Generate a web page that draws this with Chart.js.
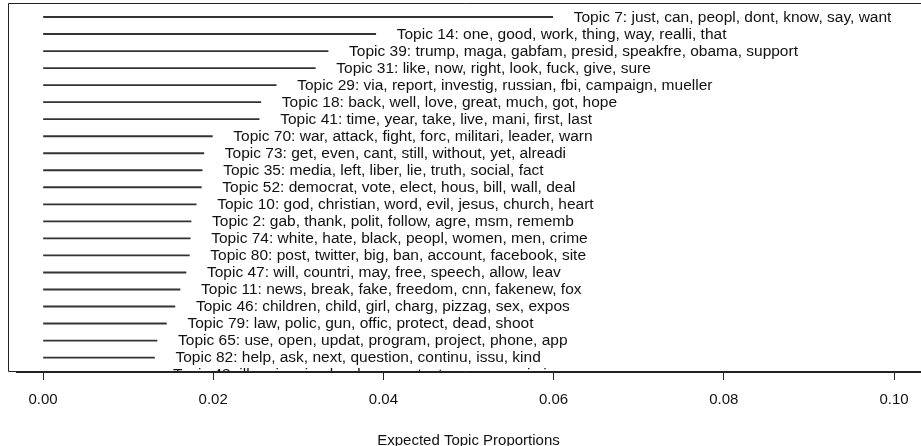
<!DOCTYPE html>
<html>
<head>
<meta charset="utf-8">
<script src="https://cdn.jsdelivr.net/npm/chart.js@4/dist/chart.umd.min.js"></script>
<style>
  html, body { margin: 0; padding: 0; background: #fff; }
  #wrap { width: 921px; height: 446px; }
</style>
</head>
<body>
<div id="wrap"><canvas id="c" width="921" height="446"></canvas></div>
<script>
// ---- data ----
const topicIds = [7, 14, 39, 31, 29, 18, 41, 70, 73, 35, 52, 10, 2, 74, 80, 47, 11, 46, 79, 65, 82, 48];
const topicWords = [
  "just, can, peopl, dont, know, say, want",
  "one, good, work, thing, way, realli, that",
  "trump, maga, gabfam, presid, speakfre, obama, support",
  "like, now, right, look, fuck, give, sure",
  "via, report, investig, russian, fbi, campaign, mueller",
  "back, well, love, great, much, got, hope",
  "time, year, take, live, mani, first, last",
  "war, attack, fight, forc, militari, leader, warn",
  "get, even, cant, still, without, yet, alreadi",
  "media, left, liber, lie, truth, social, fact",
  "democrat, vote, elect, hous, bill, wall, deal",
  "god, christian, word, evil, jesus, church, heart",
  "gab, thank, polit, follow, agre, msm, rememb",
  "white, hate, black, peopl, women, men, crime",
  "post, twitter, big, ban, account, facebook, site",
  "will, countri, may, free, speech, allow, leav",
  "news, break, fake, freedom, cnn, fakenew, fox",
  "children, child, girl, charg, pizzag, sex, expos",
  "law, polic, gun, offic, protect, dead, shoot",
  "use, open, updat, program, project, phone, app",
  "help, ask, next, question, continu, issu, kind",
  "illeg, immigr, border, arrest, stop, secur, crimin"
];
const proportions = [0.0599, 0.0391, 0.0335, 0.0320, 0.0274, 0.0256, 0.0254, 0.0199, 0.0189, 0.0187,
                     0.0186, 0.0180, 0.0174, 0.0173, 0.0172, 0.0168, 0.0161, 0.0155, 0.0145, 0.0134,
                     0.0131, 0.0128];
const xTickValues = [0.00, 0.02, 0.04, 0.06, 0.08, 0.10];
const xTitle = "Expected Topic Proportions";

const labels = topicIds.map((id, i) => "Topic " + id + ": " + topicWords[i]);
const FONT = "'Liberation Sans', Arial, Helvetica, sans-serif";

// frame (R style box: top, left, bottom; right side off-canvas)
const boxPlugin = {
  id: 'boxPlugin',
  afterDraw(chart) {
    const ctx = chart.ctx, a = chart.chartArea;
    ctx.save();
    ctx.strokeStyle = '#222';
    ctx.lineWidth = 1;
    ctx.beginPath();
    ctx.rect(8.5, Math.round(a.top) + 0.5, chart.width + 20, Math.round(a.bottom) - Math.round(a.top) - 1);
    ctx.stroke();
    ctx.restore();
  }
};

// text labels at the end of each line
const labelPlugin = {
  id: 'labelPlugin',
  afterDatasetsDraw(chart) {
    const ctx = chart.ctx, a = chart.chartArea;
    const xs = chart.scales.x, ys = chart.scales.y;
    ctx.save();
    ctx.beginPath();
    ctx.rect(0, a.top, chart.width, a.bottom - a.top - 1);
    ctx.clip();
    ctx.font = "15.5px " + FONT;
    ctx.fillStyle = '#111';
    ctx.textAlign = 'left';
    ctx.textBaseline = 'middle';
    labels.forEach((t, i) => {
      ctx.fillText(t, xs.getPixelForValue(proportions[i]) + 21, ys.getPixelForValue(i) + 0.5);
    });
    ctx.restore();
  }
};

new Chart(document.getElementById('c'), {
  type: 'bar',
  data: {
    datasets: [{
      data: proportions.map((v, i) => ({ x: v, y: i })),
      backgroundColor: '#333',
      borderWidth: 0,
      barThickness: 1.2
    }]
  },
  options: {
    indexAxis: 'y',
    responsive: false,
    animation: false,
    events: [],
    layout: { padding: { left: 16, top: 3, right: 0, bottom: 0 } },
    plugins: { legend: { display: false }, tooltip: { enabled: false } },
    scales: {
      y: {
        type: 'linear',
        display: false,
        offset: false,
        reverse: true,
        min: (3 - 17) / 17.03,
        max: (372 - 17) / 17.03
      },
      x: {
        type: 'linear',
        min: (16 - 43) / 8510,
        max: 0.1 + (921 - 894) / 8510,
        afterBuildTicks(scale) { scale.ticks = xTickValues.map(v => ({ value: v })); },
        afterFit(scale) { scale.height = 74; },
        border: { display: true, color: '#222', width: 1 },
        grid: { drawOnChartArea: false, drawTicks: true, tickLength: 8, color: '#222', lineWidth: 1 },
        ticks: {
          autoSkip: false,
          maxRotation: 0,
          padding: 11,
          color: '#111',
          font: { family: FONT, size: 15 },
          callback: (v) => Number(v).toFixed(2)
        },
        title: {
          display: true,
          text: xTitle,
          color: '#111',
          font: { family: FONT, size: 15 },
          padding: { top: 0, bottom: -4 }
        }
      }
    }
  },
  plugins: [boxPlugin, labelPlugin]
});
</script>
</body>
</html>
